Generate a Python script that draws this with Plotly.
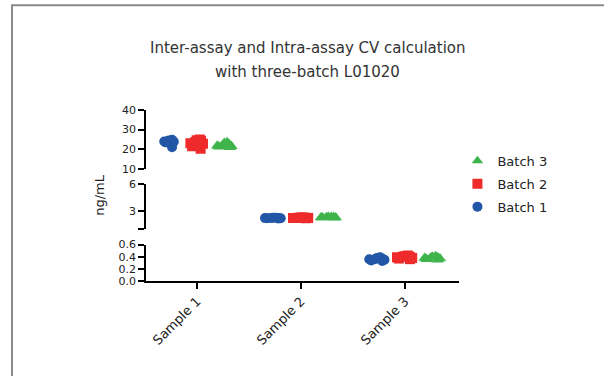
import plotly.graph_objects as go

samples = ["Sample 1", "Sample 2", "Sample 3"]
batches = ["Batch 1", "Batch 2", "Batch 3"]
colors = {"Batch 1": "#2256A6", "Batch 2": "#EE2A2A", "Batch 3": "#3FB44B"}
symbols = {"Batch 1": "circle", "Batch 2": "square", "Batch 3": "triangle-up"}
legend_rank = {"Batch 3": 1, "Batch 2": 2, "Batch 1": 3}
title_lines = ["Inter-assay and Intra-assay CV calculation", "with three-batch L01020"]

# replicate values (ng/mL)
s1_b1 = [24.5, 23.8, 24.2, 23.5, 24.8, 23.9, 24.1, 21.0]
s1_b2 = [25.0, 24.3, 23.5, 22.8, 24.6, 23.0, 21.5, 20.2]
s1_b3 = [23.2, 21.8, 22.5, 21.2, 22.0, 21.5, 23.6, 21.0]

s2_b1 = [2.22, 2.18, 2.20, 2.24, 2.19, 2.21, 2.23, 2.17]
s2_b2 = [2.25, 2.20, 2.28, 2.22, 2.18, 2.26, 2.24, 2.21]
s2_b3 = [2.30, 2.26, 2.33, 2.28, 2.25, 2.31, 2.27, 2.29]

s3_b1 = [0.36, 0.34, 0.38, 0.35, 0.37, 0.33, 0.36, 0.39]
s3_b2 = [0.40, 0.38, 0.42, 0.37, 0.39, 0.41, 0.36, 0.40]
s3_b3 = [0.38, 0.36, 0.40, 0.37, 0.39, 0.35, 0.38, 0.41]

data = {
    ("Sample 1", "Batch 1"): s1_b1, ("Sample 1", "Batch 2"): s1_b2, ("Sample 1", "Batch 3"): s1_b3,
    ("Sample 2", "Batch 1"): s2_b1, ("Sample 2", "Batch 2"): s2_b2, ("Sample 2", "Batch 3"): s2_b3,
    ("Sample 3", "Batch 1"): s3_b1, ("Sample 3", "Batch 2"): s3_b2, ("Sample 3", "Batch 3"): s3_b3,
}
yaxis_for = {"Sample 1": "y3", "Sample 2": "y2", "Sample 3": "y"}

FONT = "DejaVu Sans"
fig = go.Figure()

for s in samples:
    for b in batches:
        vals = data[(s, b)]
        fig.add_trace(go.Box(
            x=[s] * len(vals), y=vals, name=b, legendgroup=b, offsetgroup=b, showlegend=False,
            legendrank=legend_rank[b],
            xaxis="x", yaxis=yaxis_for[s],
            boxpoints="all", jitter=1.0, pointpos=0,
            fillcolor="rgba(0,0,0,0)", line=dict(width=0, color="rgba(0,0,0,0)"),
            marker=dict(symbol=symbols[b], color=colors[b], size=10 if b != "Batch 3" else 11,
                        line=dict(width=0)),
            hoverinfo="y",
        ))

for b in batches:
    fig.add_trace(go.Scatter(
        x=[None], y=[None], mode="markers", name=b, legendgroup=b, showlegend=True,
        legendrank=legend_rank[b],
        marker=dict(symbol=symbols[b], color=colors[b], size=10),
    ))

axis_common = dict(showline=True, linecolor="black", linewidth=1.5, ticks="outside",
                   ticklen=6, tickwidth=1.5, tickcolor="black", showgrid=False, zeroline=False,
                   tickfont=dict(family=FONT, size=11, color="#222"), anchor="x")

H = 171.5
fig.update_layout(
    width=604, height=376,
    margin=dict(l=146, r=145, t=110, b=94.5),
    paper_bgcolor="white", plot_bgcolor="white",
    boxmode="group", boxgap=0.2, boxgroupgap=0.3,
    showlegend=True,
    legend=dict(x=0.995, y=0.79, xanchor="left", yanchor="top", traceorder="grouped",
                tracegroupgap=3, font=dict(family=FONT, size=13, color="#222"),
                bgcolor="rgba(0,0,0,0)"),
    xaxis=dict(type="category", categoryorder="array", categoryarray=samples,
               range=[-0.49, 2.52], showline=True, linecolor="black", linewidth=1.5,
               ticks="outside", ticklen=6, tickwidth=1.5, tickcolor="black",
               showgrid=False, zeroline=False, tickangle=-45, anchor="y",
               tickfont=dict(family=FONT, size=13, color="#222")),
    yaxis=dict(domain=[0, (281.5 - 245) / H], range=[0, 0.6], tickvals=[0, 0.2, 0.4, 0.6],
               ticktext=["0.0", "0.2", "0.4", "0.6"], **axis_common),
    yaxis2=dict(domain=[(281.5 - 229.3) / H, (281.5 - 184) / H], range=[1, 6],
                tickvals=[1, 3, 6], ticktext=["", "3", "6"], **axis_common),
    yaxis3=dict(domain=[(281.5 - 169) / H, 1], range=[10, 40], tickvals=[10, 20, 30, 40],
                **axis_common),
    annotations=[
        dict(text="ng/mL", x=(100 - 146) / 313, y=(281.5 - 195) / H, xref="paper",
             yref="paper", textangle=-90, showarrow=False, xanchor="center",
             yanchor="middle", font=dict(family=FONT, size=13, color="#222")),
        dict(text=title_lines[0], x=(307.5 - 146) / 313, y=(281.5 - 48) / H, xref="paper",
             yref="paper", showarrow=False, xanchor="center", yanchor="middle",
             font=dict(family=FONT, size=15, color="#333")),
        dict(text=title_lines[1], x=(307.5 - 146) / 313, y=(281.5 - 72) / H, xref="paper",
             yref="paper", showarrow=False, xanchor="center", yanchor="middle",
             font=dict(family=FONT, size=15, color="#333")),
    ],
    shapes=[dict(type="rect", xref="paper", yref="paper", x0=(12 - 146) / 313, x1=3,
                 y0=-3, y1=(281.5 - 5) / H, line=dict(color="#8a8a8a", width=2))],
)

fig.write_html("out.html", config={"displayModeBar": False},
               post_script="document.body.style.margin='0';")
